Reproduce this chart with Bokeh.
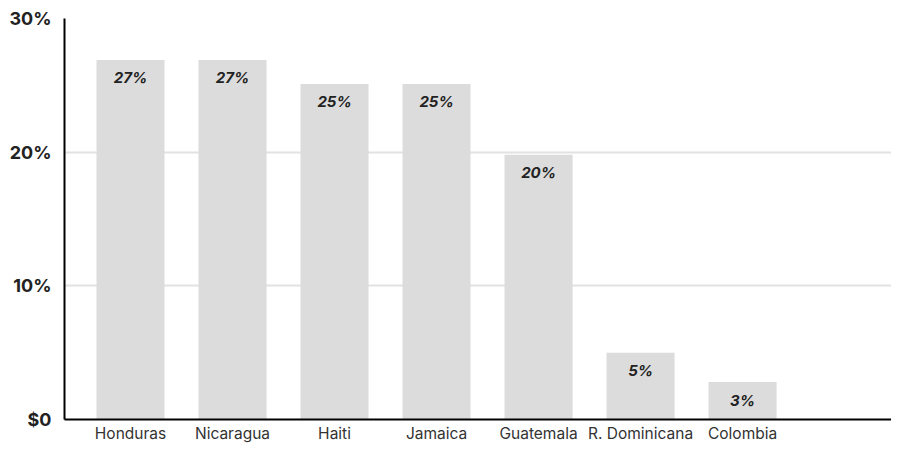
from bokeh.plotting import figure
from bokeh.models import ColumnDataSource, FixedTicker, Range1d
from bokeh.core.properties import value
from bokeh.embed import file_html
from bokeh.resources import INLINE

countries = ["Honduras", "Nicaragua", "Haiti", "Jamaica", "Guatemala", "R. Dominicana", "Colombia"]
shares = [26.9, 26.9, 25.1, 25.1, 19.8, 5.0, 2.8]
share_labels = ["27%", "27%", "25%", "25%", "20%", "5%", "3%"]
y_ticks = [0, 10, 20, 30]
y_tick_labels = ["$0", "10%", "20%", "30%"]

FONT = "Inter"
xs = list(range(len(countries)))
src = ColumnDataSource(dict(x=xs, top=shares, lab=share_labels))

p = figure(width=891, height=446, output_backend="svg", toolbar_location=None,
           x_range=Range1d(-0.647, 7.46), y_range=Range1d(0, 30),
           min_border_left=64, min_border_right=0, min_border_top=18, min_border_bottom=27)
p.outline_line_color = None
p.background_fill_color = "white"
p.border_fill_color = "white"

p.vbar(x="x", top="top", bottom=0, width=0.667, source=src, color="#dcdcdc", line_color=None)
p.text(x="x", y="top", text="lab", source=src, y_offset=18,
       text_align="center", text_baseline="middle",
       text_font=value(FONT), text_font_size="15px", text_font_style="bold italic",
       text_color="#222222")

p.xgrid.grid_line_color = None
p.ygrid.grid_line_color = "#e2e2e2"
p.ygrid.grid_line_width = 2
p.ygrid.ticker = FixedTicker(ticks=y_ticks)

p.yaxis.ticker = FixedTicker(ticks=y_ticks)
p.yaxis.major_label_overrides = {t: l for t, l in zip(y_ticks, y_tick_labels)}
p.yaxis.axis_line_color = "black"
p.yaxis.axis_line_width = 2
p.yaxis.major_tick_line_color = None
p.yaxis.minor_tick_line_color = None
p.yaxis.major_tick_out = 0
p.yaxis.major_tick_in = 0
p.yaxis.major_label_standoff = 13
p.yaxis.major_label_text_font = FONT
p.yaxis.major_label_text_font_size = "18px"
p.yaxis.major_label_text_font_style = "bold"
p.yaxis.major_label_text_color = "#222222"

p.xaxis.ticker = FixedTicker(ticks=xs)
p.xaxis.major_label_overrides = {i: c for i, c in zip(xs, countries)}
p.xaxis.axis_line_color = "black"
p.xaxis.axis_line_width = 2
p.xaxis.major_tick_line_color = None
p.xaxis.minor_tick_line_color = None
p.xaxis.major_tick_out = 0
p.xaxis.major_tick_in = 0
p.xaxis.major_label_standoff = 4
p.xaxis.major_label_text_font = FONT
p.xaxis.major_label_text_font_size = "15.5px"
p.xaxis.major_label_text_font_style = "normal"
p.xaxis.major_label_text_color = "#333333"

open("out.html", "w").write(file_html(p, INLINE))
